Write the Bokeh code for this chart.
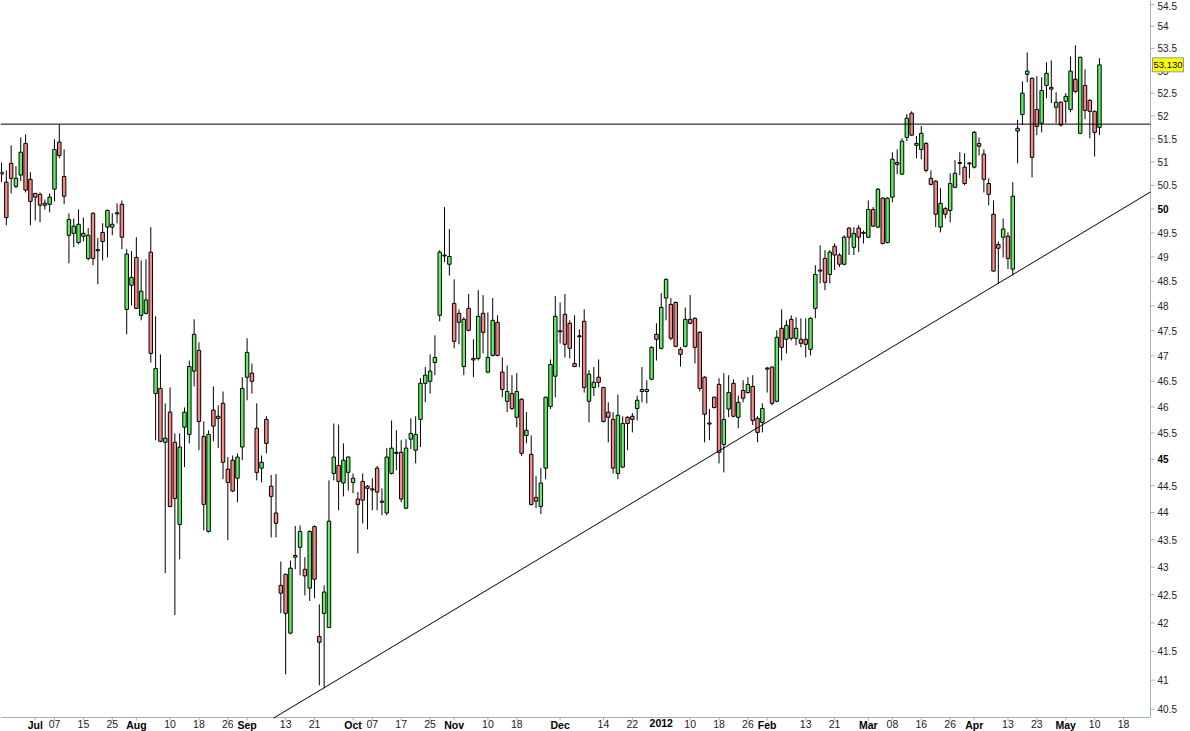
import math
from bokeh.plotting import figure
from bokeh.models import Range1d, ColumnDataSource
from bokeh.core.properties import value
from bokeh.embed import file_html
from bokeh.resources import INLINE

# ---- daily OHLC (trading-day index 0..228, late Jun 2011 .. 11 May 2012) ----
opens = [50.78, 50.57, 50.97, 50.48, 50.72, 51.40, 50.63, 50.33, 50.31, 50.12,
         50.10, 50.42, 51.43, 50.69, 49.45, 49.49, 49.30, 49.43, 48.97, 49.91,
         49.15, 49.51, 49.62, 49.62, 49.92, 50.10, 47.93, 48.42, 48.99, 47.81,
         47.85, 49.10, 46.26, 46.36, 45.32, 45.90, 45.32, 43.78, 45.61, 45.47,
         46.70, 47.11, 45.43, 43.65, 45.94, 45.82, 46.07, 44.81, 44.98, 44.64,
         45.23, 46.58, 46.66, 45.59, 44.83, 45.76, 44.49, 43.99, 42.67, 42.87,
         41.82, 43.18, 43.36, 42.96, 42.62, 43.74, 41.76, 42.17, 41.92, 44.73,
         44.88, 44.55, 44.75, 44.56, 44.25, 44.58, 44.49, 44.44, 44.83, 44.21,
         43.99, 44.73, 45.11, 45.13, 44.08, 45.38, 45.17, 45.76, 46.46, 46.50,
         46.87, 47.81, 49.02, 48.85, 48.05, 47.85, 46.79, 47.95, 46.95, 46.95,
         47.85, 46.68, 47.01, 47.67, 46.68, 46.11, 46.26, 45.80, 46.15, 45.45,
         45.09, 44.28, 44.11, 44.83, 46.01, 46.60, 47.50, 47.83, 47.65, 46.85,
         47.40, 47.69, 46.11, 46.38, 46.58, 46.38, 45.90, 45.76, 44.73, 44.85,
         45.80, 45.82, 45.97, 46.30, 46.30, 46.54, 47.43, 47.15, 48.16, 48.03,
         48.07, 47.13, 47.19, 47.73, 47.75, 47.47, 46.58, 45.69, 46.19, 46.44,
         45.28, 45.96, 46.46, 45.80, 46.32, 46.28, 46.40, 45.78, 45.70, 46.74,
         46.78, 46.11, 47.55, 47.33, 47.73, 47.35, 47.33, 47.33, 47.13, 47.95,
         48.71, 48.97, 48.64, 49.22, 49.04, 48.85, 49.60, 49.20, 49.60, 49.51,
         49.41, 49.99, 49.62, 50.23, 49.30, 50.25, 50.99, 50.74, 51.53, 52.06,
         51.36, 51.27, 51.40, 50.65, 50.59, 49.62, 50.01, 49.97, 50.46, 50.99,
         50.89, 50.98, 50.89, 51.40, 51.17, 50.54, 49.89, 49.26, 49.41, 49.43,
         48.75, 51.67, 52.03, 52.92, 52.83, 52.14, 51.84, 52.67, 52.63, 52.19,
         52.30, 52.32, 52.14, 52.81, 51.62, 52.67, 52.34, 52.10, 51.75]
highs = [50.99, 50.82, 51.36, 50.91, 51.53, 51.60, 50.78, 50.34, 50.35, 50.20,
         50.33, 51.49, 51.82, 51.27, 49.91, 49.80, 49.99, 49.82, 49.60, 49.93,
         49.39, 49.70, 49.99, 49.91, 50.12, 50.18, 49.16, 49.12, 49.41, 48.93,
         48.95, 49.62, 47.79, 47.03, 46.07, 46.38, 45.49, 45.49, 45.99, 46.91,
         47.73, 47.27, 45.72, 45.55, 46.40, 46.03, 46.30, 45.04, 45.07, 45.11,
         46.58, 47.35, 46.85, 46.07, 45.07, 45.82, 44.70, 44.72, 43.10, 42.88,
         43.12, 43.75, 43.76, 43.18, 43.67, 43.76, 42.33, 42.67, 44.60, 45.68,
         45.66, 45.30, 45.05, 44.73, 44.38, 44.73, 44.51, 44.64, 44.87, 44.45,
         45.21, 45.74, 45.55, 45.36, 45.38, 45.78, 45.82, 46.56, 46.78, 47.03,
         47.41, 49.14, 50.04, 49.58, 48.54, 47.93, 47.77, 48.24, 47.33, 48.32,
         48.22, 47.87, 48.16, 47.81, 46.97, 46.81, 46.62, 46.66, 46.17, 45.90,
         45.45, 44.68, 44.83, 46.20, 46.93, 48.20, 48.07, 48.24, 47.71, 47.81,
         47.53, 47.93, 46.72, 46.78, 46.93, 46.39, 46.09, 45.90, 46.24, 45.82,
         45.82, 45.88, 46.22, 46.78, 46.52, 47.19, 47.65, 48.26, 48.56, 48.16,
         48.09, 47.17, 47.97, 48.22, 47.77, 47.49, 46.60, 45.96, 46.20, 46.56,
         46.66, 46.62, 46.54, 46.22, 46.52, 46.58, 46.62, 45.82, 46.07, 46.78,
         46.79, 47.51, 47.93, 47.71, 47.81, 47.77, 47.75, 47.75, 47.77, 48.83,
         49.24, 49.14, 49.14, 49.28, 49.08, 49.45, 49.62, 49.62, 49.66, 49.55,
         50.18, 50.04, 50.44, 50.25, 50.25, 51.21, 51.27, 51.51, 52.04, 52.10,
         51.56, 51.78, 51.43, 50.82, 50.61, 50.44, 50.04, 50.76, 51.04, 51.21,
         51.19, 50.99, 51.67, 51.53, 51.27, 50.65, 50.18, 49.32, 49.80, 49.51,
         50.57, 51.91, 52.76, 53.41, 52.85, 52.88, 52.85, 53.19, 53.23, 52.52,
         52.32, 52.50, 53.32, 53.57, 53.31, 53.03, 52.37, 52.12, 53.28]
lows = [50.57, 49.66, 50.33, 50.44, 50.59, 50.35, 49.66, 49.76, 49.72, 49.99,
        49.93, 50.16, 51.08, 50.10, 48.87, 49.20, 49.26, 49.32, 48.93, 48.83,
        48.44, 48.93, 48.99, 49.45, 49.70, 49.16, 47.43, 48.01, 47.94, 47.71,
        47.83, 46.87, 45.36, 45.32, 42.89, 44.10, 42.14, 43.14, 44.85, 45.30,
        46.40, 45.17, 43.67, 43.63, 45.34, 45.21, 44.62, 43.49, 44.38, 44.19,
        44.98, 46.13, 46.26, 44.60, 44.56, 45.11, 43.54, 43.54, 42.17, 41.10,
        41.80, 42.96, 42.85, 42.49, 42.39, 42.44, 40.91, 40.86, 41.91, 44.60,
        44.04, 44.30, 44.41, 44.36, 43.25, 43.80, 43.69, 44.04, 44.04, 43.95,
        43.95, 44.71, 44.79, 44.19, 44.06, 45.19, 44.92, 45.23, 46.09, 46.26,
        46.62, 47.69, 48.89, 48.62, 47.15, 47.23, 46.62, 47.49, 46.58, 46.91,
        47.05, 46.66, 46.99, 46.99, 46.19, 45.90, 45.94, 45.61, 45.06, 45.30,
        44.13, 44.08, 43.97, 44.62, 45.96, 46.19, 47.25, 46.97, 46.95, 46.78,
        46.78, 46.28, 45.70, 46.21, 46.38, 45.70, 45.32, 44.73, 44.62, 44.83,
        45.17, 45.51, 45.74, 46.09, 46.07, 46.52, 46.91, 47.13, 47.71, 47.31,
        47.17, 46.79, 47.17, 47.63, 46.85, 46.30, 45.32, 45.36, 45.97, 44.92,
        44.75, 45.80, 45.80, 45.59, 46.09, 46.26, 45.65, 45.32, 45.51, 46.28,
        46.03, 46.09, 46.91, 47.05, 47.31, 47.21, 47.17, 46.97, 47.01, 47.75,
        48.46, 48.32, 48.46, 48.73, 48.79, 48.83, 49.04, 49.04, 49.10, 49.28,
        49.39, 49.62, 49.60, 49.26, 49.28, 50.14, 50.74, 50.72, 51.45, 51.56,
        51.08, 51.06, 50.78, 50.50, 49.62, 49.51, 49.80, 49.72, 50.44, 50.72,
        50.50, 50.65, 50.86, 51.14, 50.35, 50.08, 48.70, 48.44, 48.99, 48.75,
        48.62, 50.97, 51.80, 52.74, 50.67, 51.58, 51.64, 52.39, 52.28, 51.84,
        51.77, 51.84, 52.08, 52.50, 51.60, 51.93, 51.51, 51.12, 51.58]
closes = [50.74, 49.82, 50.65, 50.65, 51.21, 50.40, 50.16, 50.25, 50.08, 50.08,
          50.25, 51.27, 51.14, 50.27, 49.78, 49.64, 49.68, 49.49, 49.45, 48.97,
          49.13, 49.32, 49.97, 49.68, 49.90, 49.41, 49.06, 48.58, 47.95, 48.30,
          48.12, 47.05, 46.75, 45.34, 45.40, 44.11, 44.26, 45.23, 45.90, 46.79,
          47.43, 45.72, 44.15, 45.47, 45.63, 45.78, 44.94, 44.56, 44.40, 45.04,
          46.36, 47.07, 46.50, 44.75, 44.94, 45.30, 44.30, 43.80, 42.53, 42.17,
          42.98, 43.21, 43.65, 42.84, 43.65, 42.78, 41.66, 42.55, 43.84, 45.04,
          44.58, 44.98, 45.04, 44.64, 44.15, 44.23, 44.45, 44.42, 44.38, 44.19,
          45.04, 45.21, 45.13, 44.25, 45.21, 45.49, 45.47, 46.46, 46.62, 46.70,
          46.97, 49.10, 49.04, 49.01, 47.29, 47.67, 47.73, 47.51, 46.92, 47.79,
          47.47, 46.97, 47.71, 47.01, 46.34, 46.30, 45.97, 46.30, 45.11, 45.55,
          44.15, 44.21, 44.55, 46.19, 46.83, 47.79, 47.48, 47.23, 47.15, 46.79,
          47.38, 46.38, 46.64, 46.48, 46.48, 45.72, 45.80, 44.83, 45.84, 45.68,
          45.68, 45.76, 46.13, 46.34, 46.34, 47.17, 47.33, 47.97, 48.54, 47.35,
          47.19, 47.03, 47.73, 47.65, 47.17, 46.36, 45.86, 45.67, 45.99, 45.13,
          45.76, 46.28, 45.82, 46.09, 46.17, 46.44, 45.74, 45.51, 45.97, 46.76,
          46.07, 47.37, 47.17, 47.61, 47.35, 47.55, 47.25, 47.23, 47.75, 48.64,
          48.73, 48.48, 49.10, 49.04, 48.85, 49.41, 49.41, 49.49, 49.41, 49.49,
          49.99, 49.64, 50.42, 49.28, 50.23, 51.06, 50.95, 51.45, 51.95, 51.58,
          51.40, 51.62, 50.82, 50.52, 49.89, 50.12, 49.89, 50.54, 50.76, 50.97,
          50.54, 50.96, 51.64, 51.34, 50.63, 50.31, 48.71, 49.18, 49.58, 48.97,
          50.27, 51.73, 52.50, 52.99, 51.10, 51.77, 52.56, 52.94, 52.59, 52.30,
          51.80, 52.43, 52.99, 52.54, 53.30, 52.12, 52.10, 51.64, 53.13]

# ---- x-axis ticks (trading-day index) ----
month_ticks = [7, 28, 51, 73, 94, 116, 137, 159, 180, 202, 221]
month_labels = ["Jul", "Aug", "Sep", "Oct", "Nov", "Dec", "2012", "Feb", "Mar", "Apr", "May"]
day_ticks = [11, 17, 23, 35, 41, 47, 59, 65, 77, 83, 89, 101, 107, 125, 131,
             143, 149, 155, 167, 173, 185, 191, 197, 209, 215, 227, 233]
day_labels = ["07", "15", "25", "10", "18", "26", "13", "21", "07", "17", "25", "10", "18", "14", "22",
              "10", "18", "26", "13", "21", "08", "16", "26", "13", "23", "10", "18"]

# ---- y-axis ticks ----
y_ticks = [40.5, 41, 41.5, 42, 42.5, 43, 43.5, 44, 44.5, 45, 45.5, 46, 46.5, 47, 47.5,
           48, 48.5, 49, 49.5, 50, 50.5, 51, 51.5, 52, 52.5, 53, 53.5, 54, 54.5]
y_labels = ["40.5", "41", "41.5", "42", "42.5", "43", "43.5", "44", "44.5", "45", "45.5", "46",
            "46.5", "47", "47.5", "48", "48.5", "49", "49.5", "50", "50.5", "51", "51.5", "52",
            "52.5", "53", "53.5", "54", "54.5"]
y_bold = ["45", "50"]

# ---- reference lines ----
resistance = 51.82
trend_x = [56.5, 238.6]
trend_y = [40.35, 50.36]
last_price = 53.13

GREEN = "#62ee62"
RED = "#f88888"
AXIS = "#9fb0c2"
FONT = "Liberation Sans"
TXT = "#222222"

# ---- layout constants (canvas = window; plot area ends at the axis lines) ----
W, H = 1190, 731
PLOT_W, PLOT_H = 1150, 717
X0, AX_X = -0.21, 238.6          # x at canvas left / at right axis line
Y_TOP, AX_Y = 54.59, 40.36       # y at canvas top / at bottom axis line
PX = PLOT_W / (AX_X - X0)        # px per trading day
PY = PLOT_H / math.log(Y_TOP / AX_Y)  # px per ln unit
XR = AX_X + (W - PLOT_W) / PX
YB = AX_Y * math.exp(-(H - PLOT_H) / PY)

def dx(px):
    return px / PX

def ymul(y, px):  # move y by px upward on the log scale
    return y * math.exp(px / PY)

n = len(opens)
xs = list(range(n))
src = ColumnDataSource(dict(
    x=xs, h=highs, l=lows,
    top=[max(o, c) for o, c in zip(opens, closes)],
    bot=[min(o, c) for o, c in zip(opens, closes)],
    color=[GREEN if c >= o else RED for o, c in zip(opens, closes)],
))

p = figure(width=W, height=H, y_axis_type="log",
           x_axis_location=None, y_axis_location=None,
           x_range=Range1d(X0, XR), y_range=Range1d(YB, Y_TOP),
           output_backend="svg", toolbar_location=None,
           min_border=0, min_border_left=0, min_border_right=0,
           min_border_top=0, min_border_bottom=0,
           background_fill_color="white", border_fill_color="white")
p.outline_line_color = None
p.grid.visible = False

# ---- axes (drawn on the same scales) ----
p.line([X0, AX_X], [AX_Y, AX_Y], line_color=AXIS, line_width=1)
p.line([AX_X, AX_X], [AX_Y, Y_TOP], line_color=AXIS, line_width=1)

# y ticks + labels
p.segment(x0=[AX_X] * len(y_ticks), y0=y_ticks, x1=[AX_X + dx(4)] * len(y_ticks), y1=y_ticks,
          line_color=AXIS, line_width=1)
norm_t = [t for t, lab in zip(y_ticks, y_labels) if lab not in y_bold]
norm_l = [lab for lab in y_labels if lab not in y_bold]
norm_off = [2 if t == max(y_ticks) else 0 for t in norm_t]
bold_t = [t for t, lab in zip(y_ticks, y_labels) if lab in y_bold]
bold_l = [lab for lab in y_labels if lab in y_bold]
p.text(x=[AX_X] * len(norm_t), y=norm_t, text=norm_l, x_offset=7, y_offset=norm_off,
       text_align="left", text_baseline="middle", text_font=value(FONT),
       text_font_size=value("10px"), text_color=TXT)
p.text(x=[AX_X] * len(bold_t), y=bold_t, text=bold_l, x_offset=7,
       text_align="left", text_baseline="middle", text_font=value(FONT),
       text_font_size=value("10px"), text_font_style="bold", text_color="#000000")

# x ticks + labels
all_x = month_ticks + day_ticks
p.segment(x0=all_x, y0=[AX_Y] * len(all_x), x1=all_x, y1=[ymul(AX_Y, -3)] * len(all_x),
          line_color=AXIS, line_width=1)
p.text(x=day_ticks, y=[AX_Y] * len(day_ticks), text=day_labels, y_offset=2,
       text_align="center", text_baseline="top", text_font=value(FONT),
       text_font_size=value("10.5px"), text_color=TXT)
p.text(x=month_ticks, y=[AX_Y] * len(month_ticks), text=month_labels, y_offset=1,
       text_align="center", text_baseline="top", text_font=value(FONT),
       text_font_size=value("10.5px"), text_font_style="bold", text_color="#000000")

# ---- candles ----
p.segment(x0="x", y0="h", x1="x", y1="l", source=src, line_color="black", line_width=1)
p.vbar(x="x", width=0.72, top="top", bottom="bot", source=src,
       fill_color="color", line_color="black", line_width=1)

# ---- reference lines ----
p.line([X0, AX_X], [resistance, resistance], line_color="black", line_width=1)
p.line(trend_x, trend_y, line_color="black", line_width=1)

# ---- last price tag ----
p.quad(left=[AX_X + dx(2)], right=[AX_X + dx(33)],
       bottom=[ymul(last_price, -7)], top=[ymul(last_price, 7)],
       fill_color="#ffff00", line_color="#8899aa", line_width=1)
p.text(x=[AX_X + dx(3)], y=[last_price], text=[f"{last_price:.3f}"],
       text_align="left", text_baseline="middle", text_font=value(FONT),
       text_font_size=value("9.5px"), text_color="#000000")

open("out.html", "w").write(file_html(p, INLINE))
